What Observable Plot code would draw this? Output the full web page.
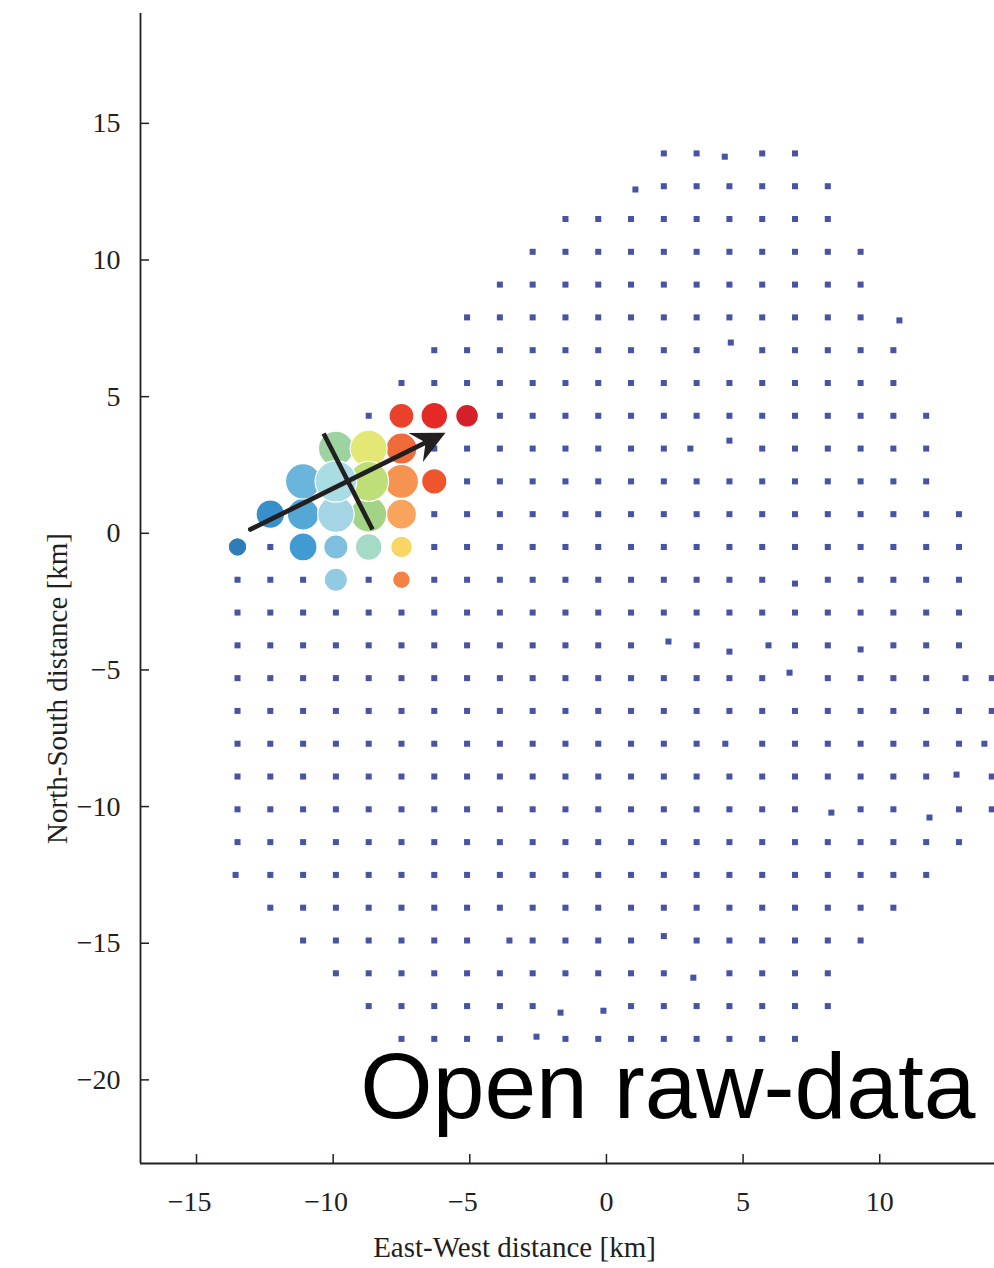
<!DOCTYPE html>
<html>
<head>
<meta charset="utf-8">
<script src="https://cdn.jsdelivr.net/npm/d3@7"></script>
<script src="https://cdn.jsdelivr.net/npm/@observablehq/plot@0.6"></script>
<style>
  html, body { margin: 0; padding: 0; background: #fff; }
  #chart svg { display: block; }
</style>
</head>
<body>
<div id="chart"></div>
<script>
// Station grid, one list per row of the array (km). A bare number is a station
// on the row's nominal northing; an [x, y] pair is a station placed off the row.
const rowY = [13.9, 12.7, 11.5, 10.3, 9.1, 7.9, 6.7, 5.5, 4.3, 3.1, 1.9, 0.7, -0.5, -1.7,
  -2.9, -4.1, -5.3, -6.5, -7.7, -8.9, -10.1, -11.3, -12.5, -13.7, -14.9, -16.1, -17.3, -18.5];

const rowX = [
  [2.1, 3.3, [4.33, 13.78], 5.7, 6.9],
  [[1.06, 12.58], 2.1, 3.3, 4.5, 5.7, 6.9, 8.1],
  [-1.5, -0.3, 0.9, 2.1, 3.3, 4.5, 5.7, 6.9, 8.1],
  [-2.7, -1.5, -0.3, 0.9, 2.1, 3.3, 4.5, 5.7, 6.9, 8.1, 9.3],
  [-3.9, -2.7, -1.5, -0.3, 0.9, 2.1, 3.3, 4.5, 5.7, 6.9, 8.1, 9.3],
  [-5.1, -3.9, -2.7, -1.5, -0.3, 0.9, 2.1, 3.3, 4.5, 5.7, 6.9, 8.1, 9.3, [10.72, 7.79]],
  [-6.3, -5.1, -3.9, -2.7, -1.5, -0.3, 0.9, 2.1, 3.3, [4.55, 6.98], 5.7, 6.9, 8.1, 9.3, 10.5],
  [-7.5, -6.3, -5.1, -3.9, -2.7, -1.5, -0.3, 0.9, 2.1, 3.3, 4.5, 5.7, 6.9, 8.1, 9.3, 10.5],
  [-8.7, -3.9, -2.7, -1.5, -0.3, 0.9, 2.1, 3.3, 4.5, 5.7, 6.9, 8.1, 9.3, 10.5, 11.7],
  [-6.3, -5.1, -3.9, -2.7, -1.5, -0.3, 0.9, 2.1, [3.07, 3.1], [4.5, 3.39], 5.7, 6.9, 8.1, 9.3, 10.5, 11.7],
  [-5.1, -3.9, -2.7, -1.5, -0.3, 0.9, 2.1, 3.3, 4.5, 5.7, 6.9, 8.1, 9.3, 10.5, 11.7],
  [-6.3, -5.1, -3.9, -2.7, -1.5, -0.3, 0.9, 2.1, 3.3, 4.5, 5.7, 6.9, 8.1, 9.3, 10.5, 11.7, 12.9],
  [-12.3, -6.3, -5.1, -3.9, -2.7, -1.5, -0.3, 0.9, 2.1, 3.3, 4.5, 5.7, 6.9, 8.1, 9.3, 10.5, 11.7, 12.9],
  [-13.5, -12.3, -11.1, -8.7, -6.3, -5.1, -3.9, -2.7, -1.5, -0.3, 0.9, 2.1, 3.3, 4.5, 5.7, [6.9, -1.84], 8.1, 9.3, 10.5, 11.7, 12.9],
  [-13.5, -12.3, -11.1, -9.9, -8.7, -7.5, -6.3, -5.1, -3.9, -2.7, -1.5, -0.3, 0.9, 2.1, 3.3, 4.5, 5.7, 6.9, 8.1, 9.3, 10.5, 11.7, 12.9],
  [-13.5, -12.3, -11.1, -9.9, -8.7, -7.5, -6.3, -5.1, -3.9, -2.7, -1.5, -0.3, 0.9, [2.27, -3.96], 3.3, [4.5, -4.33], [5.93, -4.1], 6.9, 8.1, [9.3, -4.25], 10.5, 11.7, 12.9],
  [-13.5, -12.3, -11.1, -9.9, -8.7, -7.5, -6.3, -5.1, -3.9, -2.7, -1.5, -0.3, 0.9, 2.1, 3.3, 4.5, 5.7, [6.7, -5.1], 8.1, 9.3, 10.5, 11.7, [13.14, -5.3], 14.1],
  [-13.5, -12.3, -11.1, -9.9, -8.7, -7.5, -6.3, -5.1, -3.9, -2.7, -1.5, -0.3, 0.9, 2.1, 3.3, 4.5, 5.7, 6.9, 8.1, 9.3, 10.5, 11.7, 12.9, 14.1],
  [-13.5, -12.3, -11.1, -9.9, -8.7, -7.5, -6.3, -5.1, -3.9, -2.7, -1.5, -0.3, 0.9, 2.1, 3.3, 4.35, 5.7, 6.9, 8.1, 9.3, 10.5, 11.7, 12.9, 13.83],
  [-13.5, -12.3, -11.1, -9.9, -8.7, -7.5, -6.3, -5.1, -3.9, -2.7, -1.5, -0.3, 0.9, 2.1, 3.3, 4.5, 5.7, 6.9, 8.1, 9.3, 10.5, 11.7, [12.81, -8.83], 14.1],
  [-13.5, -12.3, -11.1, -9.9, -8.7, -7.5, -6.3, -5.1, -3.9, -2.7, -1.5, -0.3, 0.9, 2.1, 3.3, 4.5, 5.7, 6.9, [8.23, -10.22], 9.3, 10.5, [11.82, -10.4], 12.9, 14.1],
  [-13.5, -12.3, -11.1, -9.9, -8.7, -7.5, -6.3, -5.1, -3.9, -2.7, -1.5, -0.3, 0.9, 2.1, 3.3, 4.5, 5.7, 6.9, 8.1, 9.3, 10.5, 11.7, 12.9],
  [-13.57, -12.3, -11.1, -9.9, -8.7, -7.5, -6.3, -5.1, -3.9, -2.7, -1.5, -0.3, 0.9, 2.1, 3.3, 4.5, 5.7, 6.9, 8.1, 9.3, 10.5, 11.7],
  [-12.3, -11.1, -9.9, -8.7, -7.5, -6.3, -5.1, -3.9, -2.7, -1.5, -0.3, 0.9, 2.1, 3.3, 4.5, 5.7, 6.9, 8.1, 9.3, 10.5],
  [-11.1, -9.9, -8.7, -7.5, -6.3, -5.1, -3.55, -2.7, -1.5, -0.3, 0.9, [2.1, -14.74], 3.3, 4.5, 5.7, 6.9, 8.1, 9.3],
  [-9.9, -8.7, -7.5, -6.3, -5.1, -3.9, -2.7, -1.5, -0.3, 0.9, 2.1, [3.18, -16.26], 4.5, 5.7, 6.9, 8.1],
  [-8.7, -7.5, -6.3, -5.1, -3.9, -2.7, [-1.68, -17.54], [-0.11, -17.47], 0.9, 2.1, 3.3, 4.5, 5.7, 6.9, 8.1],
  [-7.5, -6.3, -5.1, -3.9, [-2.56, -18.42], -1.5, -0.3, 0.9, 2.1, 3.3, 4.5, 5.7, 6.9]
];

// Stations with a detection: position (km), peak amplitude (normalised) and arrival order.
const hitX     = [-7.5, -6.3, -5.1, -9.9, -8.7, -7.5, -11.1, -9.9, -8.7, -7.5, -6.3, -12.3, -11.1, -9.9, -8.7, -7.5, -13.5, -11.1, -9.9, -8.7, -7.5, -9.9, -7.5];
const hitY     = [4.3, 4.3, 4.3, 3.1, 3.1, 3.1, 1.9, 1.9, 1.9, 1.9, 1.9, 0.7, 0.7, 0.7, 0.7, 0.7, -0.5, -0.5, -0.5, -0.5, -0.5, -1.7, -1.7];
const hitAmp   = [0.36, 0.41, 0.30, 0.71, 0.79, 0.56, 0.72, 1.00, 0.92, 0.67, 0.37, 0.47, 0.58, 0.77, 0.75, 0.52, 0.20, 0.45, 0.34, 0.41, 0.27, 0.31, 0.18];
const hitOrder = [21, 22, 23, 11, 14, 19, 5, 9, 13, 17, 20, 2, 4, 8, 12, 16, 1, 3, 6, 10, 15, 7, 18];

// Colour ramp for arrival order, earliest (blue) to latest (red).
const orderPalette = ["#2e7db8", "#3890cb", "#3f9bd2", "#55a8d6", "#6bb4db", "#7ebfe0", "#92cae2",
  "#a5d5e5", "#aadce3", "#a5dac6", "#9dd3a0", "#a3d385", "#bede78", "#e2e873", "#f9d563",
  "#f9a45d", "#f79350", "#f58244", "#f16a3a", "#ef552c", "#e9412a", "#e52a26", "#d42029"];

// Estimated propagation direction and the wavefront across it (km).
const arrowTail = [-13.03, 0.14];
const arrowTip  = [-5.89, 3.68];
const frontA    = [-10.35, 3.65];
const frontB    = [-8.56, 0.14];

const xTicks = [-15, -10, -5, 0, 5, 10];
const yTicks = [15, 10, 5, 0, -5, -10, -15, -20];
const xDomain = [-17.05, 14.2];
const yDomain = [-23.06, 19.02];

// Build the table of stations without a detection.
const stations = [];
rowX.forEach((row, i) => {
  for (const v of row) {
    if (Array.isArray(v)) stations.push({x: v[0], y: v[1]});
    else stations.push({x: v, y: rowY[i]});
  }
});

// Detections, drawn smallest first so the largest sit on top.
const hits = d3.sort(hitX.map((x, i) => ({x, y: hitY[i], amp: hitAmp[i], order: hitOrder[i]})), d => d.amp);

const arrow = [{x1: arrowTail[0], y1: arrowTail[1], x2: arrowTip[0], y2: arrowTip[1]}];
const front = [{x1: frontA[0], y1: frontA[1], x2: frontB[0], y2: frontB[1]}];

// Filled, swept-back arrowhead pointing along +x with its tip at the origin.
const arrowHead = {
  draw(context, size) {
    const l = Math.sqrt(size / Math.PI);
    const a = 26 * Math.PI / 180;
    context.moveTo(0, 0);
    context.lineTo(-l * Math.cos(a), -l * Math.sin(a));
    context.lineTo(-0.6 * l, 0);
    context.lineTo(-l * Math.cos(a), l * Math.sin(a));
    context.closePath();
  }
};
const headAngle = Math.atan2(-(arrowTip[1] - arrowTail[1]), arrowTip[0] - arrowTail[0]) * 180 / Math.PI;

// x tick labels keep the digits centred on the tick, the minus sign hanging to the left
const xTickFormat = d => d < 0 ? `\u2212${-d}\u2002` : `${d}`;

const W = 994, H = 1268;
const mL = 140, mR = 0, mT = 13, mB = 105;
const ink = "#231f20";

const chart = Plot.plot({
  width: W,
  height: H,
  marginLeft: mL,
  marginRight: mR,
  marginTop: mT,
  marginBottom: mB,
  style: {fontFamily: "'Liberation Serif', 'Times New Roman', serif", fontSize: "28px", color: ink, background: "#fff"},
  x: {domain: xDomain, ticks: xTicks, label: null},
  y: {domain: yDomain, ticks: yTicks, label: null},
  r: {type: "sqrt", domain: [0, 1], range: [0, 20.8]},
  color: {type: "linear", domain: orderPalette.map((_, i) => i + 1), range: orderPalette},
  marks: [
    // inward ticks
    Plot.tickX(xTicks, {x: d => d, insetTop: H - mT - mB - 9, stroke: ink, strokeWidth: 1.5}),
    Plot.tickY(yTicks, {y: d => d, insetRight: W - mL - mR - 9, stroke: ink, strokeWidth: 1.5}),
    Plot.axisX({ticks: xTicks, tickSize: 0, tickPadding: 28, tickFormat: xTickFormat, label: null, fill: ink}),
    Plot.axisY({ticks: yTicks, tickSize: 0, tickPadding: 20, label: null, fill: ink}),
    Plot.ruleX([xDomain[0]], {stroke: ink, strokeWidth: 1.8}),
    Plot.ruleY([yDomain[0]], {stroke: ink, strokeWidth: 1.8}),
    // stations without a detection
    Plot.dot(stations, {x: "x", y: "y", symbol: "square", r: 3.4, fill: "#4853a4"}),
    // detections
    Plot.dot(hits, {x: "x", y: "y", r: "amp", fill: "order", stroke: "#fff", strokeWidth: 1.2, sort: null}),
    // wavefront and direction arrow
    Plot.link(front, {x1: "x1", y1: "y1", x2: "x2", y2: "y2", stroke: ink, strokeWidth: 4.6}),
    Plot.arrow(arrow, {x1: "x1", y1: "y1", x2: "x2", y2: "y2", stroke: ink, strokeWidth: 4.8, headLength: 0, insetEnd: 14}),
    Plot.dot(arrow, {x: "x2", y: "y2", symbol: arrowHead, r: 37, rotate: headAngle, fill: ink}),
    // axis titles
    Plot.text(["East-West distance [km]"], {text: d => d, frameAnchor: "bottom", textAnchor: "middle", lineAnchor: "bottom", dx: -53, dy: 93, fontSize: 29, fill: ink}),
    Plot.text(["North-South distance [km]"], {text: d => d, frameAnchor: "left", textAnchor: "middle", rotate: -90, dx: -83, dy: 100, fontSize: 29, fill: ink}),
    // overlay label
    Plot.text(["Open raw-data"], {text: d => d, frameAnchor: "bottom-right", textAnchor: "end", lineAnchor: "bottom", dx: -19, dy: -46, fontSize: 93, fontFamily: "'Liberation Sans', Arial, sans-serif", fill: "#000"})
  ]
});

document.getElementById("chart").appendChild(chart);
</script>
</body>
</html>
